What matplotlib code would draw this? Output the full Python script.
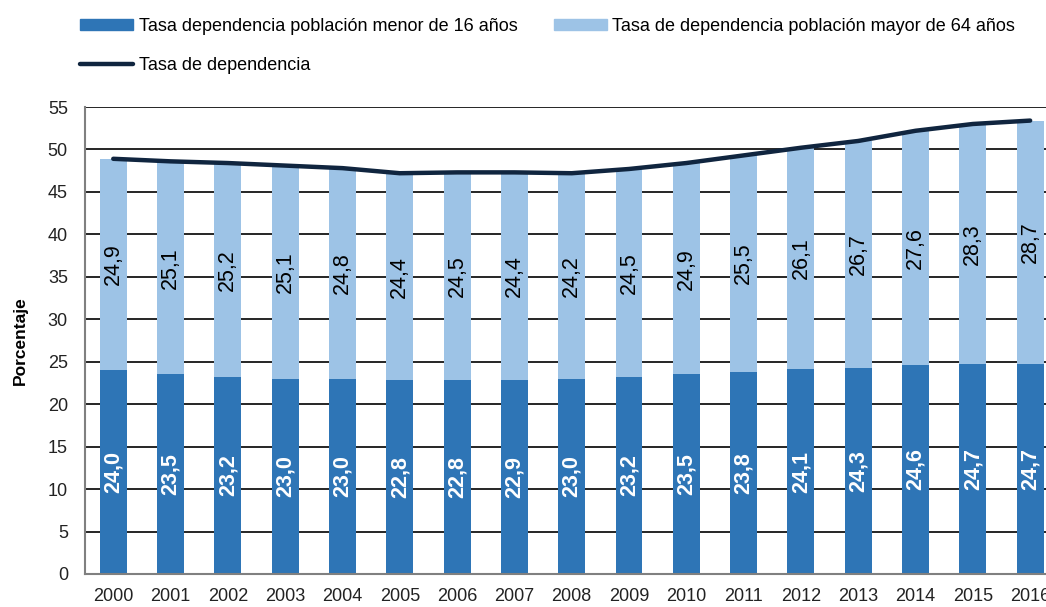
import numpy as np
import matplotlib.pyplot as plt
from matplotlib.patches import Patch
from matplotlib.lines import Line2D

plt.rcParams["font.family"] = ["Liberation Sans", "DejaVu Sans"]

years = [str(y) for y in range(2000, 2017)]
menor_16 = [24.0, 23.5, 23.2, 23.0, 23.0, 22.8, 22.8, 22.9, 23.0, 23.2, 23.5, 23.8, 24.1, 24.3, 24.6, 24.7, 24.7]
mayor_64 = [24.9, 25.1, 25.2, 25.1, 24.8, 24.4, 24.5, 24.4, 24.2, 24.5, 24.9, 25.5, 26.1, 26.7, 27.6, 28.3, 28.7]

labels = [
    "Tasa dependencia población menor de 16 años",
    "Tasa de dependencia población mayor de 64 años",
    "Tasa de dependencia",
]

C_LOW = "#2E75B6"
C_HIGH = "#9DC3E6"
C_LINE = "#10253F"

low = np.array(menor_16)
high = np.array(mayor_64)
total = low + high
x = np.arange(len(years))

W, H = 1046, 607
fig = plt.figure(figsize=(W / 100, H / 100), dpi=100)
# el eje sigue mas alla del borde derecho, como en el original
ax = fig.add_axes([84.6 / W, 33 / H, 974.2 / W, 467 / H])

ax.bar(x, low, width=0.47, color=C_LOW, zorder=2)
ax.bar(x, high, bottom=low, width=0.47, color=C_HIGH, zorder=2)
ax.plot(x, total, color=C_LINE, lw=3.2, solid_capstyle="round", solid_joinstyle="round", zorder=3)

def fmt(v):
    return f"{v:.1f}".replace(".", ",")

for i in range(len(x)):
    ax.text(x[i], low[i] / 2, fmt(low[i]), rotation=90, ha="center", va="center",
            color="white", fontsize=15.5, fontweight="bold", zorder=4)
    ax.text(x[i], low[i] + high[i] / 2, fmt(high[i]), rotation=90, ha="center", va="center",
            color="black", fontsize=15.5, zorder=4)

ax.set_xlim(-0.5, len(x) - 0.5)
ax.set_ylim(0, 55)
ax.set_yticks(range(0, 56, 5))
ax.set_xticks(x)
ax.set_xticklabels(years)
ax.tick_params(axis="both", length=0, labelsize=13, colors="#222222")
ax.tick_params(axis="y", pad=12)
ax.tick_params(axis="x", pad=10)
ax.yaxis.grid(True, color="black", lw=1.2, zorder=0)
ax.set_axisbelow(True)
for s in ["top", "right"]:
    ax.spines[s].set_visible(False)
for s in ["left", "bottom"]:
    ax.spines[s].set_color("#808080")
    ax.spines[s].set_linewidth(1.5)
ax.set_ylabel("Porcentaje", fontsize=12.5, fontweight="bold", labelpad=14)

handles = [
    Patch(color=C_LOW),
    Line2D([0], [0], color=C_LINE, lw=3.2, solid_capstyle="round"),
    Patch(color=C_HIGH),
]
fig.legend(handles, [labels[0], labels[2], labels[1]], ncol=2,
           loc="upper left", bbox_to_anchor=(80 / W, 1 - 18 / H),
           frameon=False, fontsize=13.0, handlelength=2.95, handleheight=0.55,
           handletextpad=0.3, columnspacing=2.0, labelspacing=1.2,
           borderpad=0, borderaxespad=0)

fig.savefig("out.png", dpi=100)
